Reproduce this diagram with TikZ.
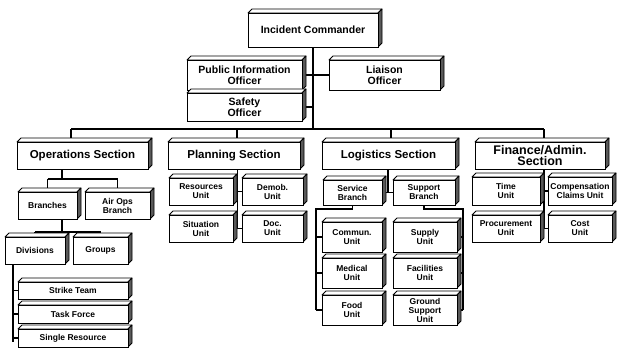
\documentclass[tikz,border=0pt]{standalone}
\usepackage{fontspec}
\setmainfont{Liberation Sans}
\usetikzlibrary{backgrounds}
\newcommand\dep{4}
\tikzset{
  frontbox/.style={draw, fill=white, line width=0.8pt, inner sep=0pt, align=center, font=\bfseries},
  topface/.style={draw, fill=white, line width=0.8pt, line join=round},
  sideface/.style={draw, fill=black!65, line width=0.8pt, line join=round},
  conn/.style={draw, line width=1.3pt},
  big/.style={font={\fontsize{10.5}{11}\selectfont\bfseries}},
  sec/.style={font={\fontsize{11.5}{12}\selectfont\bfseries}},
  fsec/.style={font={\fontsize{12.5}{11}\selectfont\bfseries}},
  small/.style={font={\fontsize{8.5}{9}\selectfont\bfseries}}
}
\newcommand\tdbox[7]{%
  \filldraw[topface] (#2,#3) -- (#2+\dep,#3-\dep) -- (#4+\dep,#3-\dep) -- (#4,#3) -- cycle;
  \filldraw[sideface] (#4,#3) -- (#4+\dep,#3-\dep) -- (#4+\dep,#5-\dep) -- (#4,#5) -- cycle;
  \node[frontbox,#6,minimum width=#4-#2,minimum height=#5-#3] (#1) at ({(#2+#4)/2},{(#3+#5)/2}) {#7};
}
\begin{document}
\begin{tikzpicture}[x=1pt,y=-1pt]
\useasboundingbox (0,0) rectangle (624,361);
% top level
\tdbox{ic}{248}{13}{378}{47}{big}{Incident Commander}
\tdbox{pio}{187}{60}{302}{90}{big}{Public Information\\Officer}
\tdbox{liaison}{329}{60}{440}{90}{big}{Liaison\\Officer}
\tdbox{safety}{187}{93}{302}{121}{big}{Safety\\Officer}
% sections
\tdbox{ops}{17}{142}{148}{169}{sec}{Operations Section}
\tdbox{plan}{168}{142}{300}{169}{sec}{Planning Section}
\tdbox{log}{322}{142}{455}{169}{sec}{Logistics Section}
\tdbox{fin}{475}{142}{605}{169}{fsec}{Finance/Admin.\\Section}
% operations
\tdbox{branches}{18}{192}{77}{219}{small}{Branches}
\tdbox{airops}{85}{192}{150}{219}{small}{Air Ops\\Branch}
\tdbox{divisions}{5}{237}{65}{264}{small}{Divisions}
\tdbox{groups}{73}{237}{128}{264}{small}{Groups}
\tdbox{strike}{18}{282}{128}{299}{small}{Strike Team}
\tdbox{task}{18}{305}{128}{323}{small}{Task Force}
\tdbox{single}{18}{329}{128}{347}{small}{Single Resource}
% planning
\tdbox{resources}{169}{178}{233}{205}{small}{Resources\\Unit}
\tdbox{demob}{242}{178}{303}{205}{small}{Demob.\\Unit}
\tdbox{situation}{169}{215}{233}{242}{small}{Situation\\Unit}
\tdbox{doc}{242}{215}{303}{242}{small}{Doc.\\Unit}
% logistics
\tdbox{service}{323}{180}{382}{205}{small}{Service\\Branch}
\tdbox{support}{393}{180}{455}{205}{small}{Support\\Branch}
\tdbox{commun}{322}{222}{382}{252}{small}{Commun.\\Unit}
\tdbox{medical}{322}{258}{382}{288}{small}{Medical\\Unit}
\tdbox{food}{322}{295}{382}{325}{small}{Food\\Unit}
\tdbox{supply}{393}{222}{457}{252}{small}{Supply\\Unit}
\tdbox{facilities}{393}{258}{457}{288}{small}{Facilities\\Unit}
\tdbox{ground}{393}{295}{457}{325}{small}{Ground\\Support\\Unit}
% finance
\tdbox{time}{472}{177}{540}{205}{small}{Time\\Unit}
\tdbox{comp}{548}{177}{612}{205}{small}{Compensation\\Claims Unit}
\tdbox{proc}{472}{215}{540}{242}{small}{Procurement\\Unit}
\tdbox{cost}{548}{215}{612}{242}{small}{Cost\\Unit}
% connectors
\begin{scope}[on background layer]
\coordinate (bar) at (313,129);
\coordinate (d1) at (71,129);
\coordinate (d2) at (237,129);
\coordinate (d3) at (391,129);
\coordinate (d4) at (544,129);
\draw[conn] (ic.south) -- (bar);
\draw[conn] (pio.east) -- (liaison.west);
\draw[conn] (safety.east) -- (safety.east -| ic.south);
\draw[conn] (d1) -- (d4);
\draw[conn] (d1) -- (d1 |- ops.north);
\draw[conn] (d2) -- (d2 |- plan.north);
\draw[conn] (d3) -- (d3 |- log.north);
\draw[conn] (d4) -- (d4 |- fin.north);
% operations
\coordinate (o1) at (62,179);
\draw[conn] (o1 |- ops.south) -- (o1);
\draw[conn] (branches.north |- o1) -- (airops.north |- o1);
\draw[conn] (branches.north |- o1) -- (branches.north);
\draw[conn] (airops.north |- o1) -- (airops.north);
\coordinate (o2) at (62,232);
\draw[conn] (o2 |- branches.south) -- (o2);
\draw[conn] (divisions.north |- o2) -- (groups.north |- o2);
\draw[conn] (divisions.north |- o2) -- (divisions.north);
\draw[conn] (groups.north |- o2) -- (groups.north);
\coordinate (o3) at (13,342);
\draw[conn] (o3 |- divisions.south) -- (o3);
\draw[conn] (strike.west -| o3) -- (strike.west);
\draw[conn] (task.west -| o3) -- (task.west);
\draw[conn] (single.west -| o3) -- (single.west);
% planning
\coordinate (p1) at (237.5,228.5);
\draw[conn] (p1 |- plan.south) -- (p1);
\draw[conn] (resources.east) -- (demob.west);
\draw[conn] (situation.east) -- (doc.west);
% logistics
\coordinate (l1) at (388,192.5);
\draw[conn] (l1 |- log.south) -- (l1);
\draw[conn] (service.east) -- (support.west);
\coordinate (l2) at (316,209);
\draw[conn] (service.south) -- (service.south |- l2) -- (l2) -- (l2 |- food.west);
\draw[conn] (commun.west -| l2) -- (commun.west);
\draw[conn] (medical.west -| l2) -- (medical.west);
\draw[conn] (food.west -| l2) -- (food.west);
\coordinate (l3) at (463,209);
\draw[conn] (support.south) -- (support.south |- l3) -- (l3) -- (l3 |- ground.east);
\draw[conn] (supply.east -| l3) -- (supply.east);
\draw[conn] (facilities.east -| l3) -- (facilities.east);
\draw[conn] (ground.east -| l3) -- (ground.east);
% finance
\coordinate (f1) at (544,228.5);
\draw[conn] (f1 |- fin.south) -- (f1);
\draw[conn] (time.east) -- (comp.west);
\draw[conn] (proc.east) -- (cost.west);
\end{scope}
\end{tikzpicture}
\end{document}
